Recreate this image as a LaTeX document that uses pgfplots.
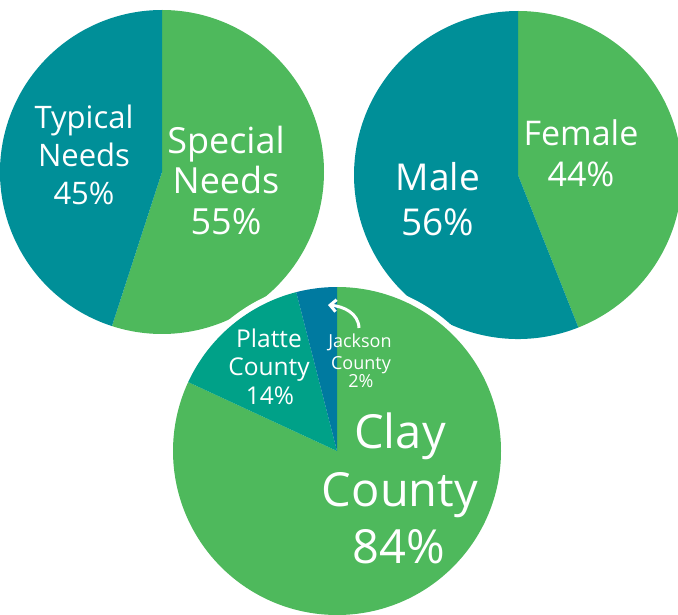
\documentclass[border=0pt]{standalone}
\usepackage{pgfplots}
\usepackage{pgfplotstable}
\pgfplotsset{compat=1.18}
\usepackage{fontspec}
\setmainfont{Open Sans}
\usetikzlibrary{arrows.meta}
\definecolor{cGreen}{RGB}{78,185,92}
\definecolor{cTeal}{RGB}{0,143,152}
\definecolor{cPlatte}{RGB}{0,161,136}
\definecolor{cJackson}{RGB}{0,122,160}

% slices clockwise from 12 o'clock
\pgfplotstableread{
v c
55 cGreen
45 cTeal
}\tabNeeds
\pgfplotstableread{
v c
44 cGreen
56 cTeal
}\tabGender
\pgfplotstableread{
v c
81.9 cGreen
14.1 cPlatte
4.0 cJackson
}\tabCounty

\newcommand\drawpie[4]{%
  \def\cum{0}%
  \pgfplotstablegetrowsof{#1}%
  \pgfmathtruncatemacro\nlast{\pgfplotsretval-1}%
  \pgfplotsforeachungrouped \i in {0,...,\nlast}{%
    \pgfplotstablegetelem{\i}{v}\of{#1}\let\val\pgfplotsretval
    \pgfplotstablegetelem{\i}{c}\of{#1}\let\col\pgfplotsretval
    \pgfmathsetmacro\sa{90-3.6*\cum}%
    \pgfmathsetmacro\cum{\cum+\val}%
    \pgfmathsetmacro\ea{90-3.6*\cum}%
    \edef\temp{\noexpand\fill[\col] (axis cs:#2,#3) -- ++(\sa:#4pt) arc[start angle=\sa, end angle=\ea, radius=#4pt] -- cycle;}%
    \temp
  }%
}
\newcommand\lbl[4]{\node[anchor=base,white,inner sep=0pt,font=\fontsize{#3}{#3}\selectfont] at (axis cs:#1,#2) {#4};}

\begin{document}
\begin{tikzpicture}
\begin{axis}[x=1pt,y=1pt,xmin=0,xmax=678,ymin=0,ymax=614,hide axis,clip=true]
\coordinate (ll) at (axis cs:0,0);
\coordinate (ur) at (axis cs:678,614);
\drawpie{\tabNeeds}{162}{442}{162}
\drawpie{\tabGender}{518}{439}{164}
\fill[white] (axis cs:337,163) circle[radius=170pt];
\drawpie{\tabCounty}{337}{163}{164}
% labels
\lbl{84}{485}{31}{Typical}
\lbl{84}{447}{31}{Needs}
\lbl{84}{409}{31}{45\%}
\lbl{226}{460}{36}{Special}
\lbl{226}{420}{36}{Needs}
\lbl{226}{379}{36}{55\%}
\lbl{438}{423}{37}{Male}
\lbl{438}{378}{37}{56\%}
\lbl{581}{468}{34}{Female}
\lbl{581}{427}{34}{44\%}
\lbl{400}{165}{47}{Clay}
\lbl{400}{108}{47}{County}
\lbl{399}{51}{47}{84\%}
\lbl{269}{266}{24.5}{Platte}
\lbl{269}{238}{24.5}{County}
\lbl{270}{209}{24.5}{14\%}
\lbl{360}{266}{18}{Jackson}
\lbl{361}{244}{18}{County}
\lbl{361}{226}{18}{2\%}
\draw[white,line width=3pt,-{Straight Barb[length=6pt,width=12pt,line width=3pt]}] (axis cs:359,286) to[out=92,in=-5] (axis cs:328,309);
\end{axis}
\pgfresetboundingbox
\path[use as bounding box] (ll) rectangle (ur);
\end{tikzpicture}
\end{document}
